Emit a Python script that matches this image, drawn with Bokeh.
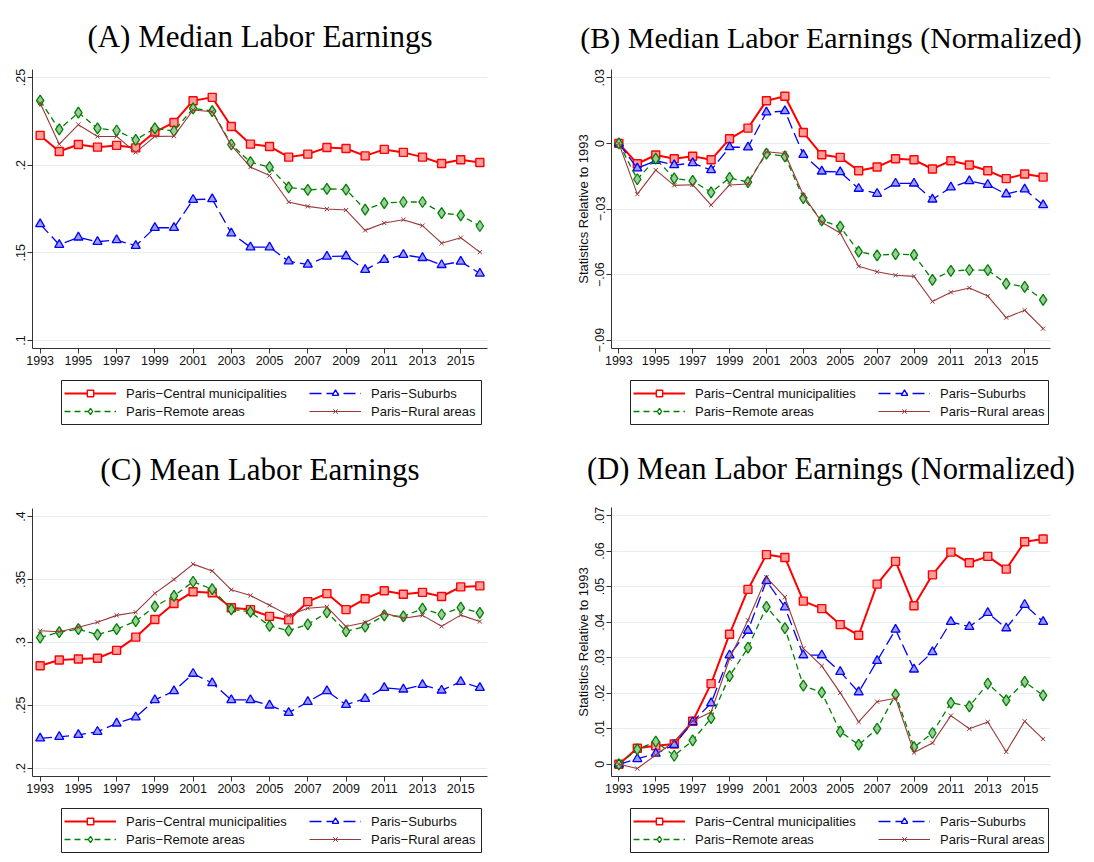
from bokeh.plotting import figure
from bokeh.layouts import column, row
from bokeh.models import Legend, LegendItem, FixedTicker, Range1d, BoxAnnotation
from bokeh.embed import file_html
from bokeh.resources import INLINE

years = list(range(1993, 2017))
x_ticks = list(range(1993, 2017, 2))
series_names = ["Paris\u2212Central municipalities", "Paris\u2212Suburbs",
                "Paris\u2212Remote areas", "Paris\u2212Rural areas"]

# (A) Median labor earnings
a_central = [0.2170, 0.2078, 0.2118, 0.2103, 0.2113, 0.2099, 0.2189, 0.2244, 0.2368, 0.2387, 0.2221, 0.2120,
             0.2107, 0.2046, 0.2063, 0.2101, 0.2095, 0.2053, 0.2090, 0.2073, 0.2046, 0.2010, 0.2031, 0.2015]
a_suburbs = [0.1664, 0.1546, 0.1588, 0.1563, 0.1573, 0.1540, 0.1643, 0.1643, 0.1803, 0.1807, 0.1611, 0.1532,
             0.1532, 0.1452, 0.1433, 0.1479, 0.1481, 0.1403, 0.1460, 0.1489, 0.1471, 0.1431, 0.1450, 0.1382]
a_remote = [0.2368, 0.2204, 0.2300, 0.2210, 0.2198, 0.2145, 0.2210, 0.2195, 0.2324, 0.2309, 0.2118, 0.2017,
            0.1989, 0.1874, 0.1859, 0.1865, 0.1861, 0.1746, 0.1784, 0.1790, 0.1790, 0.1727, 0.1714, 0.1653]
a_rural = [0.2355, 0.2120, 0.2231, 0.2164, 0.2164, 0.2073, 0.2164, 0.2166, 0.2315, 0.2305, 0.2113, 0.1989,
           0.1941, 0.1790, 0.1765, 0.1750, 0.1744, 0.1628, 0.1670, 0.1689, 0.1655, 0.1555, 0.1586, 0.1504]

# (B) Median labor earnings, normalized
b_central = [0.0, -0.0093, -0.0053, -0.0070, -0.0059, -0.0075, 0.0021, 0.0070, 0.0195, 0.0216, 0.0050, -0.0052,
             -0.0064, -0.0125, -0.0108, -0.0070, -0.0075, -0.0117, -0.0079, -0.0099, -0.0125, -0.0161, -0.0140, -0.0154]
b_suburbs = [0.0, -0.0114, -0.0079, -0.0099, -0.0090, -0.0122, -0.0017, -0.0018, 0.0142, 0.0148, -0.0052, -0.0128,
             -0.0131, -0.0207, -0.0230, -0.0183, -0.0183, -0.0256, -0.0201, -0.0172, -0.0189, -0.0232, -0.0210, -0.0282]
b_remote = [0.0, -0.0164, -0.0070, -0.0160, -0.0171, -0.0224, -0.0158, -0.0177, -0.0047, -0.0059, -0.0250, -0.0352,
            -0.0381, -0.0495, -0.0512, -0.0506, -0.0510, -0.0624, -0.0583, -0.0579, -0.0580, -0.0641, -0.0656, -0.0716]
b_rural = [0.0, -0.0232, -0.0122, -0.0192, -0.0189, -0.0282, -0.0190, -0.0186, -0.0038, -0.0046, -0.0236, -0.0361,
           -0.0410, -0.0562, -0.0587, -0.0603, -0.0608, -0.0723, -0.0681, -0.0661, -0.0698, -0.0797, -0.0763, -0.0847]

# (C) Mean labor earnings
c_central = [0.2814, 0.2860, 0.2868, 0.2873, 0.2936, 0.3041, 0.3181, 0.3308, 0.3402, 0.3394, 0.3275, 0.3260,
             0.3206, 0.3178, 0.3323, 0.3387, 0.3260, 0.3346, 0.3410, 0.3382, 0.3397, 0.3364, 0.3440, 0.3448]
c_suburbs = [0.2237, 0.2249, 0.2265, 0.2290, 0.2356, 0.2405, 0.2542, 0.2613, 0.2751, 0.2677, 0.2542, 0.2542,
             0.2499, 0.2440, 0.2527, 0.2613, 0.2504, 0.2552, 0.2639, 0.2626, 0.2662, 0.2618, 0.2687, 0.2639]
c_remote = [0.3038, 0.3081, 0.3104, 0.3061, 0.3104, 0.3168, 0.3285, 0.3369, 0.3481, 0.3422, 0.3262, 0.3242,
            0.3130, 0.3092, 0.3143, 0.3237, 0.3087, 0.3125, 0.3214, 0.3206, 0.3267, 0.3221, 0.3275, 0.3234]
c_rural = [0.3092, 0.3084, 0.3120, 0.3160, 0.3214, 0.3239, 0.3389, 0.3499, 0.3621, 0.3567, 0.3417, 0.3372,
           0.3295, 0.3214, 0.3270, 0.3282, 0.3125, 0.3158, 0.3232, 0.3191, 0.3214, 0.3127, 0.3216, 0.3165]

# (D) Mean labor earnings, normalized
d_central = [0.0, 0.0045, 0.0052, 0.0057, 0.0121, 0.0227, 0.0366, 0.0492, 0.0590, 0.0582, 0.0459, 0.0438,
             0.0393, 0.0363, 0.0507, 0.0571, 0.0446, 0.0533, 0.0597, 0.0567, 0.0585, 0.0549, 0.0626, 0.0634]
d_suburbs = [0.0, 0.0015, 0.0030, 0.0055, 0.0119, 0.0172, 0.0307, 0.0376, 0.0516, 0.0442, 0.0307, 0.0307,
             0.0260, 0.0203, 0.0291, 0.0379, 0.0267, 0.0316, 0.0401, 0.0387, 0.0426, 0.0383, 0.0449, 0.0401]
d_remote = [0.0, 0.0042, 0.0064, 0.0024, 0.0067, 0.0130, 0.0248, 0.0328, 0.0443, 0.0383, 0.0221, 0.0202,
            0.0092, 0.0055, 0.0100, 0.0196, 0.0048, 0.0088, 0.0173, 0.0163, 0.0227, 0.0180, 0.0232, 0.0194]
d_rural = [0.0, -0.0012, 0.0026, 0.0064, 0.0122, 0.0147, 0.0297, 0.0405, 0.0526, 0.0470, 0.0326, 0.0277,
           0.0201, 0.0119, 0.0176, 0.0186, 0.0033, 0.0060, 0.0137, 0.0100, 0.0119, 0.0035, 0.0121, 0.0071]

a_yticks = [0.1, 0.15, 0.2, 0.25]
a_ylabels = [".1", ".15", ".2", ".25"]
b_yticks = [-0.09, -0.06, -0.03, 0.0, 0.03]
b_ylabels = ["\u2212.09", "\u2212.06", "\u2212.03", "0", ".03"]
c_yticks = [0.2, 0.25, 0.3, 0.35, 0.4]
c_ylabels = [".2", ".25", ".3", ".35", ".4"]
d_yticks = [0.0, 0.01, 0.02, 0.03, 0.04, 0.05, 0.06, 0.07]
d_ylabels = ["0", ".01", ".02", ".03", ".04", ".05", ".06", ".07"]
y_title = "Statistics Relative to 1993"

styles = [
    dict(color="#FF0000", width=2.0, dash="solid", marker="square", size=8, fill="#FF9C9C", mlw=1.4),
    dict(color="#0000FF", width=1.3, dash="12 5", marker="triangle", size=9, fill="#9C9CFF", mlw=1.3),
    dict(color="#008000", width=1.3, dash="6 4", marker="diamond", size=11, fill="#9CCC9C", mlw=1.3),
    dict(color="#993838", width=1.1, dash="solid", marker="x", size=6, fill=None, mlw=1.0),
]

SANS = "Liberation Sans"
PH = 378           # plot figure height
BOT = 30           # bottom border
ROW1 = dict(top=69, standoff=31)
ROW2 = dict(top=72, standoff=43)
LEFT_COL = dict(w=539, bl=32, br=52, fw=455)
RIGHT_COL = dict(w=546, bl=72, br=35, fw=439)


def panel(title, tsize, data, yticks, ylabels, yr, ylabel, col, rw):
    p = figure(width=col["w"], height=PH, x_range=Range1d(1992.6, 2016.4), y_range=Range1d(*yr),
               output_backend="svg", toolbar_location=None,
               min_border_left=col["bl"], min_border_right=col["br"],
               min_border_top=rw["top"], min_border_bottom=BOT)
    p.title.text = title
    p.title.text_font = "Liberation Serif"
    p.title.text_font_size = tsize
    p.title.text_font_style = "normal"
    p.title.text_color = "#000000"
    p.title.align = "center"
    p.title.standoff = rw["standoff"]
    p.outline_line_color = None
    p.xgrid.visible = False
    p.ygrid.grid_line_color = "#E4EEF0"
    p.ygrid.grid_line_width = 1
    p.xaxis.ticker = FixedTicker(ticks=x_ticks)
    p.yaxis.ticker = FixedTicker(ticks=yticks)
    p.yaxis.major_label_overrides = {t: l for t, l in zip(yticks, ylabels)}
    p.yaxis.major_label_orientation = "vertical"
    for ax in (p.xaxis[0], p.yaxis[0]):
        ax.axis_line_color = "#333333"
        ax.axis_line_width = 1
        ax.major_tick_line_color = "#333333"
        ax.major_tick_out = 5
        ax.major_tick_in = 0
        ax.minor_tick_line_color = None
        ax.major_label_text_font = SANS
        ax.major_label_text_font_size = "12.5px"
        ax.major_label_text_color = "#111111"
        ax.major_label_standoff = 2
    if ylabel:
        p.yaxis.axis_label = ylabel
        p.yaxis.axis_label_text_font = SANS
        p.yaxis.axis_label_text_font_size = "13px"
        p.yaxis.axis_label_text_font_style = "normal"
        p.yaxis.axis_label_text_color = "#111111"
        p.yaxis.axis_label_standoff = 2
    for vals, st in zip(data, styles):
        p.line(years, vals, line_color=st["color"], line_width=st["width"], line_dash=st["dash"])
        p.scatter(years, vals, marker=st["marker"], size=st["size"], line_color=st["color"],
                  fill_color=st["fill"], line_width=st["mlw"])
    return p


def legend_fig(col, h, x0, bw):
    fw = col["fw"]
    p = figure(width=col["w"], height=h, x_range=Range1d(0, fw), y_range=Range1d(0, h),
               output_backend="svg", toolbar_location=None,
               min_border_left=col["bl"], min_border_right=col["br"], min_border_top=0, min_border_bottom=0)
    p.axis.visible = False
    p.grid.visible = False
    p.outline_line_color = None
    top = h - 2
    bottom = top - 44
    p.add_layout(BoxAnnotation(left=x0, right=x0 + bw, bottom=bottom, top=top,
                               fill_color="white", fill_alpha=1.0,
                               line_color="#222222", line_width=1, line_alpha=1.0))
    items = []
    for name, st in zip(series_names, styles):
        lr = p.line(x=[float("nan")], y=[float("nan")], line_color=st["color"], line_width=st["width"],
                    line_dash=st["dash"])
        mr = p.scatter(x=[float("nan")], y=[float("nan")], marker=st["marker"], size=st["size"] - 1,
                       line_color=st["color"], fill_color="white" if st["fill"] else None, line_width=st["mlw"])
        items.append(LegendItem(label=name, renderers=[lr, mr]))
    common = dict(orientation="vertical", border_line_color=None, background_fill_alpha=0.0,
                  label_text_font=SANS, label_text_font_size="13px", label_text_color="#111111",
                  glyph_width=52, glyph_height=16, label_height=16, label_standoff=10,
                  spacing=2, padding=0, margin=0)
    leg1 = Legend(items=[items[0], items[2]], location=(x0 + 3, bottom + 5), **common)
    leg2 = Legend(items=[items[1], items[3]], location=(x0 + 248, bottom + 5), **common)
    p.add_layout(leg1, "center")
    p.add_layout(leg2, "center")
    return p


pa = panel("(A) Median Labor Earnings", "31px", [a_central, a_suburbs, a_remote, a_rural],
           a_yticks, a_ylabels, (0.0954, 0.2546), None, LEFT_COL, ROW1)
pb = panel("(B) Median Labor Earnings (Normalized)", "30px", [b_central, b_suburbs, b_remote, b_rural],
           b_yticks, b_ylabels, (-0.0938, 0.0338), y_title, RIGHT_COL, ROW1)
pc = panel("(C) Mean Labor Earnings", "31px", [c_central, c_suburbs, c_remote, c_rural],
           c_yticks, c_ylabels, (0.1934, 0.4063), None, LEFT_COL, ROW2)
pd = panel("(D) Mean Labor Earnings (Normalized)", "30.5px", [d_central, d_suburbs, d_remote, d_rural],
           d_yticks, d_ylabels, (-0.00344, 0.07225), y_title, RIGHT_COL, ROW2)

la = legend_fig(LEFT_COL, 50, 29, 420)
lb = legend_fig(RIGHT_COL, 50, 19, 418)
lc = legend_fig(LEFT_COL, 50, 29, 420)
ld = legend_fig(RIGHT_COL, 50, 19, 418)

layout = column(row(column(pa, la), column(pb, lb)), row(column(pc, lc), column(pd, ld)))

open("out.html", "w").write(file_html(layout, INLINE))
